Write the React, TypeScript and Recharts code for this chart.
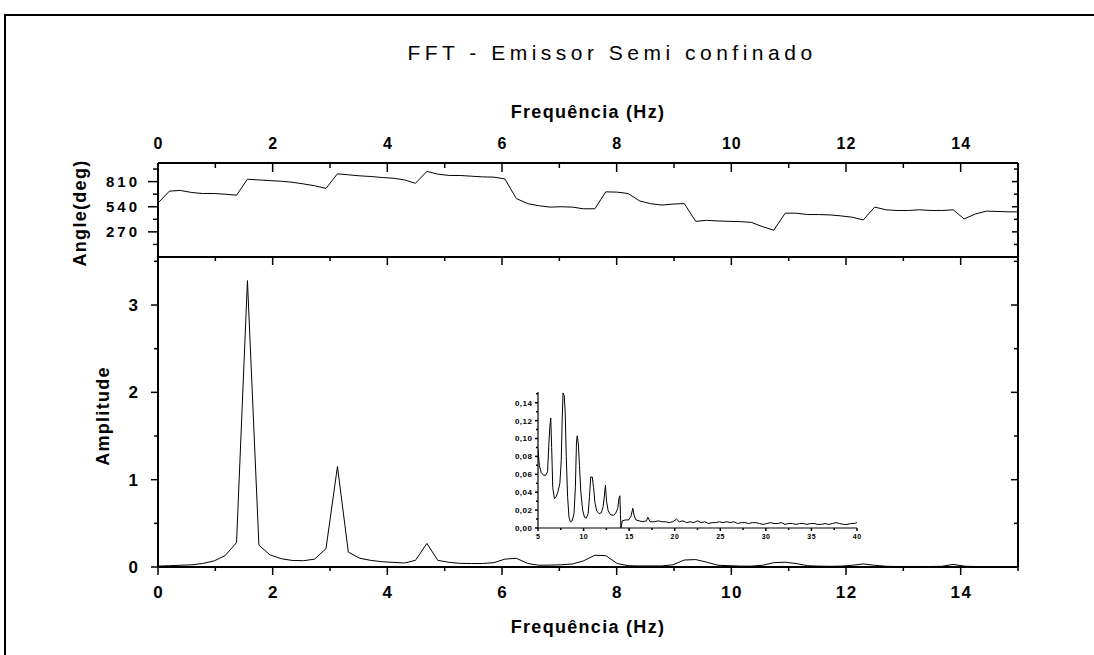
import { LineChart, Line, XAxis, YAxis } from "recharts";

// frequency grid of the FFT (Hz)
const freqs = [
  0, 0.2, 0.39, 0.59, 0.78, 0.98, 1.17, 1.37, 1.56, 1.76, 1.95, 2.15, 2.34, 2.54,
  2.73, 2.93, 3.13, 3.32, 3.52, 3.71, 3.91, 4.1, 4.3, 4.49, 4.69, 4.88, 5.08, 5.27,
  5.47, 5.66, 5.86, 6.05, 6.25, 6.45, 6.64, 6.84, 7.03, 7.23, 7.42, 7.62, 7.81,
  8.01, 8.2, 8.4, 8.59, 8.79, 8.98, 9.18, 9.38, 9.57, 9.77, 9.96, 10.16, 10.35,
  10.55, 10.74, 10.94, 11.13, 11.33, 11.52, 11.72, 11.91, 12.11, 12.3, 12.5, 12.7,
  12.89, 13.09, 13.28, 13.48, 13.67, 13.87, 14.06, 14.26, 14.45, 14.65, 14.84, 15.04,
];

const amplitude = [
  0.01, 0.015, 0.02, 0.025, 0.04, 0.07, 0.13, 0.28, 3.28, 0.25, 0.14, 0.095, 0.075,
  0.072, 0.09, 0.21, 1.15, 0.17, 0.1, 0.076, 0.06, 0.053, 0.046, 0.076, 0.27, 0.076,
  0.053, 0.042, 0.04, 0.04, 0.05, 0.09, 0.1, 0.04, 0.02, 0.022, 0.025, 0.035, 0.07,
  0.135, 0.13, 0.04, 0.015, 0.012, 0.012, 0.012, 0.025, 0.08, 0.085, 0.055, 0.02,
  0.015, 0.01, 0.01, 0.02, 0.05, 0.055, 0.04, 0.015, 0.01, 0.008, 0.01, 0.02, 0.035,
  0.02, 0.008, 0.006, 0.006, 0.006, 0.006, 0.008, 0.03, 0.01, 0.005, 0.005, 0.005,
  0.005, 0.005,
];

const angle = [
  580, 708, 715, 693, 682, 682, 675, 664, 836, 828, 821, 814, 803, 785, 766, 737,
  894, 883, 872, 865, 854, 847, 828, 792, 920, 890, 876, 876, 868, 861, 858, 839,
  628, 573, 551, 536, 540, 536, 518, 518, 700, 697, 682, 602, 573, 558, 569, 573,
  383, 394, 387, 383, 380, 372, 325, 288, 471, 471, 456, 456, 452, 442, 427, 398,
  536, 507, 500, 500, 507, 500, 500, 507, 409, 463, 493, 489, 485, 485,
];

// inset: 5 - 40 Hz detail
const insetFreqs = [
  5.0, 5.15, 5.35, 5.6, 5.85, 6.05, 6.2, 6.3, 6.4, 6.5, 6.62, 6.8, 7.0, 7.2, 7.4,
  7.55, 7.65, 7.75, 7.88, 7.98, 8.1, 8.25, 8.4, 8.55, 8.75, 8.95, 9.1, 9.22, 9.3,
  9.42, 9.55, 9.7, 9.9, 10.1, 10.3, 10.5, 10.65, 10.78, 10.95, 11.1, 11.25, 11.45,
  11.7, 11.95, 12.15, 12.3, 12.4, 12.52, 12.7, 12.95, 13.25, 13.5, 13.75, 13.9,
  13.98, 14.05, 14.1, 14.25, 14.6, 14.95, 15.2, 15.4, 15.55, 15.75, 16.1, 16.5,
  16.9, 17.05, 17.3, 17.8, 18.2, 18.6, 19.0, 19.4, 19.8, 20.2, 20.5, 20.9, 21.3,
  21.7, 22.1, 22.5, 22.9, 23.3, 23.7, 24.1, 24.5, 24.9, 25.3, 25.7, 26.1, 26.5,
  26.9, 27.3, 27.7, 28.1, 28.5, 28.9, 29.3, 29.7, 30.1, 30.5, 30.9, 31.3, 31.7,
  32.1, 32.5, 32.9, 33.3, 33.7, 34.1, 34.5, 34.9, 35.3, 35.7, 36.1, 36.5, 36.9,
  37.3, 37.7, 38.1, 38.5, 38.9, 39.3, 39.7, 40.0,
];

const insetAmplitude = [
  0.088, 0.07, 0.062, 0.059, 0.059, 0.063, 0.095, 0.113, 0.123, 0.09, 0.045, 0.033,
  0.035, 0.041, 0.05, 0.075, 0.12, 0.151, 0.148, 0.13, 0.08, 0.035, 0.012, 0.007,
  0.008, 0.016, 0.045, 0.095, 0.103, 0.095, 0.07, 0.04, 0.02, 0.012, 0.011, 0.016,
  0.035, 0.057, 0.057, 0.045, 0.028, 0.019, 0.016, 0.017, 0.024, 0.038, 0.048, 0.03,
  0.019, 0.015, 0.014, 0.016, 0.022, 0.034, 0.036, 0.015, 0.0, 0.008, 0.009, 0.009,
  0.013, 0.022, 0.014, 0.009, 0.008, 0.007, 0.008, 0.012, 0.007, 0.007, 0.008,
  0.007, 0.007, 0.006, 0.007, 0.01, 0.007, 0.008, 0.006, 0.007, 0.006, 0.008, 0.006,
  0.007, 0.005, 0.006, 0.006, 0.007, 0.006, 0.007, 0.006, 0.007, 0.005, 0.006, 0.006,
  0.005, 0.006, 0.006, 0.005, 0.004, 0.005, 0.006, 0.005, 0.005, 0.006, 0.004, 0.005,
  0.005, 0.004, 0.005, 0.005, 0.004, 0.005, 0.005, 0.004, 0.004, 0.005, 0.004, 0.005,
  0.006, 0.005, 0.004, 0.004, 0.005, 0.005, 0.006,
];

const xTicks = [0, 1, 2, 3, 4, 5, 6, 7, 8, 9, 10, 11, 12, 13, 14, 15];
const angleTicks = [135, 270, 405, 540, 675, 810, 945];
const ampTicks = [0, 0.5, 1, 1.5, 2, 2.5, 3, 3.5];
const insetXTicks = [5, 7.5, 10, 12.5, 15, 17.5, 20, 22.5, 25, 27.5, 30, 32.5, 35, 37.5, 40];
const insetYTicks = [0, 0.01, 0.02, 0.03, 0.04, 0.05, 0.06, 0.07, 0.08, 0.09, 0.1, 0.11, 0.12, 0.13, 0.14, 0.15];

const data = freqs.map((f, i) => ({ f, amp: amplitude[i], ang: angle[i] }));
const insetData = insetFreqs.map((f, i) => ({ f, amp: insetAmplitude[i] }));

const W = 1094;
const H = 655;
const FONT = '"Liberation Sans", Arial, sans-serif';
const AXIS = { stroke: "#000", strokeWidth: 2 };

type Side = "left" | "right" | "top" | "bottom";
type TickLabel = { fmt: (v: number) => string; offset: number; size: number; ls: number };

// draws the tick mark (inward or outward) and the label for major ticks
function axisTick(
  side: Side,
  inward: boolean,
  major: number,
  minor: number,
  isMajor: (v: number) => boolean,
  label?: TickLabel
) {
  return (props: any) => {
    const { x, y, payload } = props;
    const v = payload.value as number;
    const big = isMajor(v);
    const len = big ? major : minor;
    const out = inward ? -1 : 1;
    const dx = side === "left" ? -out : side === "right" ? out : 0;
    const dy = side === "top" ? -out : side === "bottom" ? out : 0;
    let text = null;
    if (label && big) {
      const style = {
        fontFamily: FONT,
        fontWeight: 700,
        fontSize: label.size,
        fill: "#000",
        letterSpacing: label.ls,
      };
      if (side === "left") {
        text = (
          <text x={x - label.offset + label.ls} y={y} dy="0.36em" textAnchor="end" style={style}>
            {label.fmt(v)}
          </text>
        );
      } else if (side === "bottom") {
        text = (
          <text x={x + label.ls / 2} y={y + label.offset} textAnchor="middle" style={style}>
            {label.fmt(v)}
          </text>
        );
      } else if (side === "top") {
        text = (
          <text x={x + label.ls / 2} y={y - label.offset} textAnchor="middle" style={style}>
            {label.fmt(v)}
          </text>
        );
      }
    }
    return (
      <g>
        <line x1={x} y1={y} x2={x + dx * len} y2={y + dy * len} stroke="#000" strokeWidth={1.5} />
        {text}
      </g>
    );
  };
}

const evenX = (v: number) => v % 2 === 0;
const intY = (v: number) => Number.isInteger(v);
const angMajor = (v: number) => v % 270 === 0;
const insetXMajor = (v: number) => v % 5 === 0;
const insetYMajor = (v: number) => Math.round(v * 100) % 2 === 0 && v < 0.15;

const plain = {
  tickSize: 0,
  tickMargin: 0,
  tickLine: false,
  axisLine: AXIS,
  interval: 0 as const,
  allowDataOverflow: true,
};

function AngleChart() {
  return (
    <LineChart width={W} height={H} data={data} margin={{ top: 123, right: 66, bottom: H - 257, left: 98 }}>
      <XAxis
        dataKey="f"
        type="number"
        domain={[0, 15]}
        ticks={xTicks}
        orientation="top"
        height={40}
        {...plain}
        tick={axisTick("top", true, 9, 5, evenX, { fmt: String, offset: 14.5, size: 16, ls: 1 })}
      />
      <YAxis
        yAxisId="l"
        type="number"
        domain={[0, 1010]}
        ticks={angleTicks}
        width={60}
        {...plain}
        tick={axisTick("left", false, 10, 5, angMajor, { fmt: String, offset: 21, size: 15, ls: 3 })}
      />
      <YAxis
        yAxisId="r"
        orientation="right"
        type="number"
        domain={[0, 1010]}
        ticks={angleTicks}
        width={10}
        {...plain}
        tick={axisTick("right", true, 6, 4, angMajor)}
      />
      <Line
        yAxisId="l"
        type="linear"
        dataKey="ang"
        stroke="#000"
        strokeWidth={1}
        dot={false}
        activeDot={false}
        isAnimationActive={false}
      />
    </LineChart>
  );
}

function AmplitudeChart() {
  return (
    <LineChart width={W} height={H} data={data} margin={{ top: 247, right: 66, bottom: 48, left: 98 }}>
      <XAxis
        xAxisId="b"
        dataKey="f"
        type="number"
        domain={[0, 15]}
        ticks={xTicks}
        height={40}
        {...plain}
        tick={axisTick("bottom", false, 8, 4, evenX, { fmt: String, offset: 31, size: 17, ls: 1.5 })}
      />
      <XAxis
        xAxisId="t"
        dataKey="f"
        type="number"
        domain={[0, 15]}
        ticks={xTicks}
        orientation="top"
        height={10}
        {...plain}
        tick={axisTick("top", true, 8, 4, evenX)}
      />
      <YAxis
        yAxisId="l"
        type="number"
        domain={[0, 3.55]}
        ticks={ampTicks}
        width={60}
        {...plain}
        tick={axisTick("left", false, 7, 4, intY, { fmt: String, offset: 20, size: 17, ls: 1 })}
      />
      <YAxis
        yAxisId="r"
        orientation="right"
        type="number"
        domain={[0, 3.55]}
        ticks={ampTicks}
        width={10}
        {...plain}
        tick={axisTick("right", true, 7, 4, intY)}
      />
      <Line
        xAxisId="b"
        yAxisId="l"
        type="linear"
        dataKey="amp"
        stroke="#000"
        strokeWidth={1}
        dot={false}
        activeDot={false}
        isAnimationActive={false}
      />
    </LineChart>
  );
}

function InsetChart() {
  const thin = { stroke: "#000", strokeWidth: 1.2 };
  return (
    <LineChart width={W} height={H} data={insetData} margin={{ top: 392, right: 237, bottom: 112, left: 508 }}>
      <XAxis
        dataKey="f"
        type="number"
        domain={[5, 40]}
        ticks={insetXTicks}
        height={15}
        {...plain}
        axisLine={thin}
        tick={axisTick("bottom", false, 3, 2, insetXMajor, { fmt: String, offset: 11, size: 7, ls: 0.5 })}
      />
      <YAxis
        type="number"
        domain={[0, 0.152]}
        ticks={insetYTicks}
        width={30}
        {...plain}
        axisLine={thin}
        tick={axisTick("left", false, 3, 2, insetYMajor, {
          fmt: (v) => v.toFixed(2).replace(".", ","),
          offset: 6,
          size: 8,
          ls: 0.5,
        })}
      />
      <Line
        type="linear"
        dataKey="amp"
        stroke="#000"
        strokeWidth={1}
        dot={false}
        activeDot={false}
        isAnimationActive={false}
      />
    </LineChart>
  );
}

export default function App() {
  const layer = { position: "absolute" as const, left: 0, top: 0 };
  const bold = { fontFamily: FONT, fontWeight: 700, fontSize: 18, fill: "#000", letterSpacing: 1.3 };
  return (
    <div
      style={{
        position: "absolute",
        left: 0,
        top: 0,
        width: W,
        height: H,
        overflow: "hidden",
        background: "#fff",
      }}
    >
      <svg width={W} height={H} style={layer}>
        <path d={`M5 ${H} V15 H${W}`} fill="none" stroke="#000" strokeWidth={2} />
      </svg>
      <div style={layer}>
        <AmplitudeChart />
      </div>
      <div style={layer}>
        <AngleChart />
      </div>
      <div style={layer}>
        <InsetChart />
      </div>
      <svg width={W} height={H} style={{ ...layer, pointerEvents: "none" }}>
        <text
          x={612}
          y={60}
          textAnchor="middle"
          style={{ fontFamily: FONT, fontSize: 21, fill: "#000", letterSpacing: 4.5 }}
        >
          FFT - Emissor Semi confinado
        </text>
        <text x={588} y={118} textAnchor="middle" style={bold}>
          Frequência (Hz)
        </text>
        <text x={588} y={633} textAnchor="middle" style={bold}>
          Frequência (Hz)
        </text>
        <text transform="translate(80,213) rotate(-90)" dy="0.35em" textAnchor="middle" style={bold}>
          Angle(deg)
        </text>
        <text transform="translate(103,416) rotate(-90)" dy="0.35em" textAnchor="middle" style={bold}>
          Amplitude
        </text>
      </svg>
    </div>
  );
}
